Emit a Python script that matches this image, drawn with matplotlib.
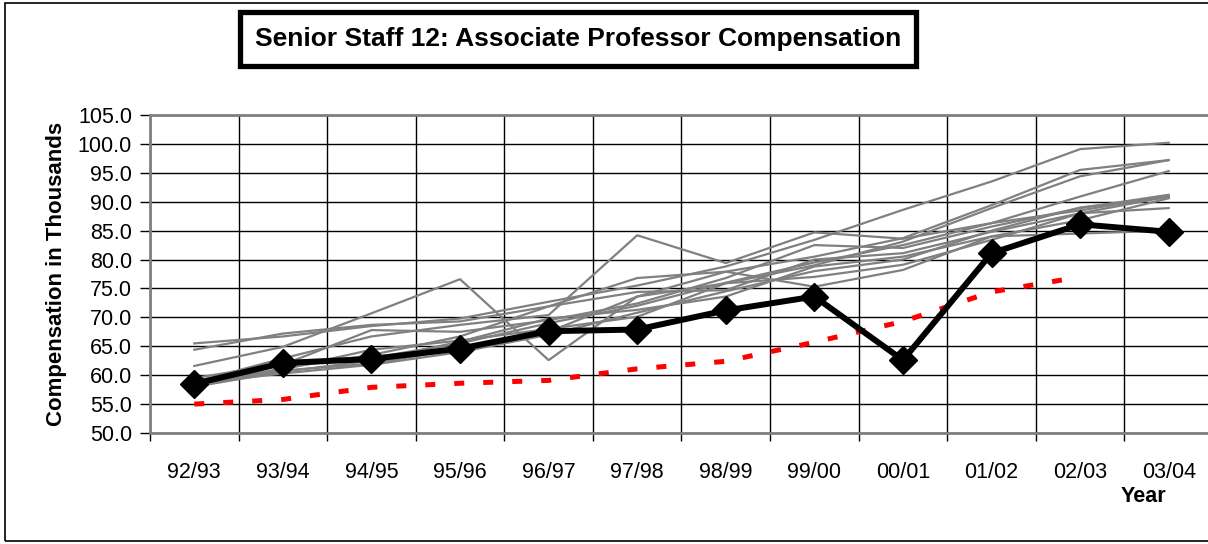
import numpy as np
import matplotlib
matplotlib.use("Agg")
import matplotlib.pyplot as plt
from matplotlib.patches import Rectangle

plt.rcParams['font.family'] = ['Liberation Sans', 'DejaVu Sans']

years = ["92/93", "93/94", "94/95", "95/96", "96/97", "97/98",
         "98/99", "99/00", "00/01", "01/02", "02/03", "03/04"]

# our institution (black, diamonds)
ours = [58.5, 62.1, 62.8, 64.6, 67.6, 67.9, 71.2, 73.6, 62.6, 81.1, 86.1, 84.8]

# red dashed reference line (no value for 03/04)
reference = [55.0, 55.8, 57.9, 58.6, 59.1, 61.1, 62.4, 65.7, 69.3, 74.4, 77.0, np.nan]

# peer institutions (grey)
peer1 = [65.5, 66.7, 68.5, 69.8, 72.7, 75.5, 78.8, 83.4, 88.6, 93.5, 99.1, 100.2]
peer2 = [64.4, 67.2, 68.7, 69.3, 71.9, 76.8, 77.9, 80.5, 83.7, 89.4, 95.5, 97.2]
peer3 = [61.6, 64.9, 70.7, 76.6, 62.6, 73.6, 75.9, 79.0, 83.1, 88.9, 94.4, 97.2]
peer4 = [58.8, 62.9, 66.7, 68.7, 70.4, 84.2, 79.4, 84.7, 83.6, 86.3, 90.9, 95.3]
peer5 = [59.0, 61.8, 67.8, 67.5, 69.5, 72.4, 76.8, 82.5, 82.0, 85.7, 88.9, 91.2]
peer6 = [58.3, 61.2, 63.5, 66.7, 71.9, 74.4, 74.7, 80.0, 81.1, 84.8, 88.0, 90.9]
peer7 = [58.0, 60.6, 62.5, 65.8, 69.8, 71.3, 73.6, 78.8, 80.5, 84.0, 86.8, 90.6]
peer8 = [58.6, 61.0, 64.4, 66.0, 68.0, 70.1, 75.9, 77.0, 79.1, 83.4, 88.0, 88.9]
peer9 = [58.2, 60.8, 62.0, 64.6, 67.5, 73.6, 77.9, 75.3, 78.2, 84.0, 84.5, 85.0]
peer10 = [59.5, 62.0, 63.0, 65.5, 69.0, 72.0, 76.0, 79.5, 82.5, 86.3, 88.5, 91.0]
peer11 = [58.5, 60.3, 61.8, 64.0, 67.0, 70.8, 74.5, 78.0, 80.0, 85.0, 89.0, 90.8]
peers = [peer1, peer2, peer3, peer4, peer5, peer6, peer7, peer8, peer9, peer10, peer11]

W, H = 1208, 544
fig = plt.figure(figsize=(W / 100, H / 100), dpi=100)

# outer chart border
fig.patches.append(Rectangle((5 / W, 3 / H), 1.2, (H - 6) / H, transform=fig.transFigure,
                             fill=False, edgecolor='black', linewidth=1.2))

ax = fig.add_axes([150 / W, 111 / H, 1063 / W, 318 / H])
x = np.arange(len(years))

for p in peers:
    ax.plot(x, p, color='#808080', linewidth=1.6, zorder=3)

ax.plot(x, reference, color='red', linewidth=3.6, dashes=(2.0, 3.8),
        dash_capstyle='butt', zorder=4)
ax.plot(x, ours, color='black', linewidth=4.3, marker='D', markersize=14,
        zorder=5)

ax.set_xlim(-0.5, len(years) - 0.5)
ax.set_ylim(50, 105)
ax.set_yticks(np.arange(50, 105.1, 5))
ax.set_yticklabels([f"{v:.1f}" for v in np.arange(50, 105.1, 5)])

# category boundaries as major ticks (grid), labels at centres
ax.set_xticks(np.arange(-0.5, len(years), 1))
ax.set_xticklabels([])
ax.set_xticks(x, minor=True)
ax.set_xticklabels(years, minor=True)
ax.tick_params(axis='x', which='minor', length=0, pad=21, labelsize=15.5)
ax.tick_params(axis='x', which='major', length=6, width=1, direction='out')
ax.tick_params(axis='y', length=7, width=1, direction='out', pad=6, labelsize=15.5)

ax.grid(True, which='major', color='black', linewidth=1.0, zorder=1)
ax.set_axisbelow(True)
for s in ax.spines.values():
    s.set_color('#808080')
    s.set_linewidth(2)

ax.set_ylabel("Compensation in Thousands", fontsize=16, fontweight='bold', labelpad=8)
fig.text(1143 / W, 1 - 497 / H, "Year", fontsize=15.5, fontweight='bold',
         ha='center', va='center')

fig.text(578 / W, 1 - 39 / H, "Senior Staff 12: Associate Professor Compensation",
         fontsize=19, fontweight='bold', ha='center', va='center',
         bbox=dict(boxstyle='square,pad=0.55', facecolor='white',
                   edgecolor='black', linewidth=3.8))

fig.savefig("out.png", dpi=100)
